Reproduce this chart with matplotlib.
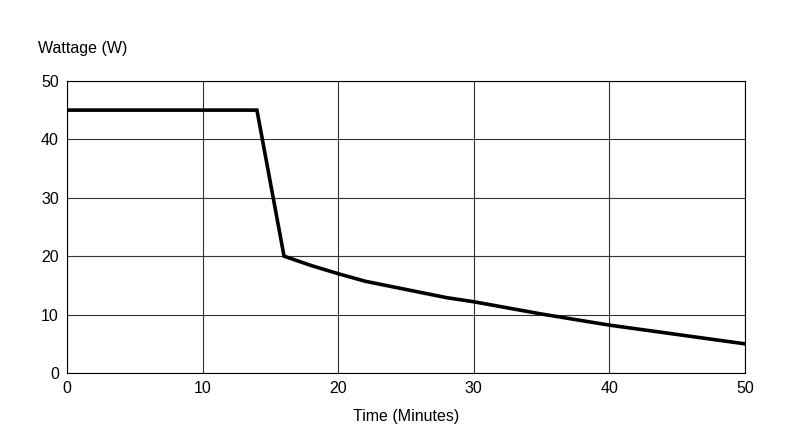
import matplotlib
matplotlib.use("Agg")
import matplotlib.pyplot as plt

plt.rcParams['font.family'] = ['Liberation Sans', 'DejaVu Sans']

# Wattage over time
time_min = [0, 14, 16, 18, 20, 22, 25, 28, 30, 35, 40, 45, 50]
watts = [45, 45, 20, 18.4, 17.0, 15.7, 14.3, 12.9, 12.2, 10.1, 8.2, 6.6, 5.0]

fig = plt.figure(figsize=(8, 4.47), dpi=100)
ax = fig.add_axes([0.084, 0.1655, 0.847, 0.6535])
ax.plot(time_min, watts, color='black', linewidth=2.6, solid_joinstyle='miter')
ax.set_xlim(0, 50)
ax.set_ylim(0, 50)
ax.set_xticks(range(0, 51, 10))
ax.set_yticks(range(0, 51, 10))
ax.grid(True, color='#333333', linewidth=0.8)
for s in ax.spines.values():
    s.set_linewidth(0.8)
ax.tick_params(length=0, labelsize=11.5, pad=6)
ax.set_xlabel('Time (Minutes)', fontsize=11.5, labelpad=9)
fig.text(38 / 800, 1 - 48 / 447, 'Wattage (W)', fontsize=11.5, va='center', ha='left')

fig.savefig('out.png', dpi=100)
